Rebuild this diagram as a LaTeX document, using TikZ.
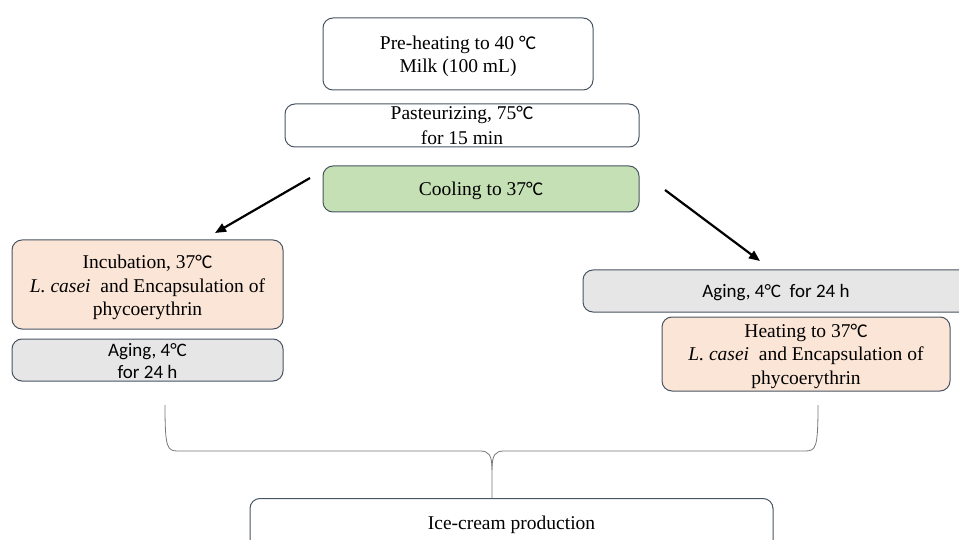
\documentclass[tikz,border=0pt]{standalone}
\usepackage{fontspec}
\setmainfont{Liberation Serif}
\newfontfamily\calfont{Carlito}
\usetikzlibrary{arrows.meta}
\definecolor{edgec}{RGB}{72,84,98}
\definecolor{greenf}{RGB}{197,224,180}
\definecolor{peachf}{RGB}{251,229,214}
\definecolor{grayf}{RGB}{231,230,230}
\definecolor{bracec}{RGB}{120,120,120}
\newcommand{\dC}{{\calfont °C}}
\newcommand{\up}[1]{\rule{0pt}{#1pt}}
\tikzset{
  box/.style={draw=edgec, line width=1pt, rounded corners=10pt, align=center,
    inner sep=0pt, font=\fontsize{19.5}{23.5}\selectfont},
  calbox/.style={box, font=\calfont\fontsize{19}{22.5}\selectfont},
  arr/.style={line width=2.2pt, -{Triangle[length=11pt,width=9pt]}},
  bracel/.style={draw=bracec, line width=0.8pt}
}
\begin{document}
\begin{tikzpicture}[x=1pt,y=-1pt]
\useasboundingbox (0,0) rectangle (959,540);
\clip (0,0) rectangle (959,540);
\node[box, minimum width=270pt, minimum height=72pt] (pre) at (458,54)
  {\up{18.5}Pre-heating to 40 \dC\\Milk (100 mL)};
\node[box, minimum width=354pt, minimum height=43pt] (past) at (462,125.5)
  {\raisebox{2pt}{Pasteurizing, 75\dC}\\for 15 min};
\node[box, fill=greenf, minimum width=316pt, minimum height=46pt] (cool) at (481,189)
  {\up{17.5}Cooling to 37\dC};
\node[box, fill=peachf, minimum width=271pt, minimum height=89pt] (inc) at (147.5,284.5)
  {\up{19.5}Incubation, 37\dC\\\textit{L. casei}\ \ and Encapsulation of\\phycoerythrin};
\node[calbox, fill=grayf, minimum width=271pt, minimum height=42pt] (agel) at (147.5,360)
  {\up{15}Aging, 4°C\\for 24 h};
\node[calbox, fill=grayf, minimum width=386pt, minimum height=42pt] (ager) at (776,291)
  {\up{17}Aging, 4°C\ \ for 24 h};
\node[box, fill=peachf, minimum width=288pt, minimum height=74pt] (heat) at (806,354)
  {\up{18}Heating to 37\dC\\\textit{L. casei}\ \ and Encapsulation of\\phycoerythrin};
\node[box, minimum width=523pt, minimum height=70pt, anchor=north] (ice) at (511.5,498)
  {\raisebox{22pt}{Ice-cream production}};
% arrows
\coordinate (a1s) at (310,178);
\coordinate (a1e) at (215,233);
\coordinate (a2s) at (665,190);
\coordinate (a2e) at (760,261);
\draw[arr] (a1s) -- (a1e);
\draw[arr] (a2s) -- (a2e);
% brace
\coordinate (bl) at (165,405);
\coordinate (br) at (818,405);
\coordinate (bt) at (492,498);
\coordinate (bm) at (492,470);
\draw[bracel] (bl) .. controls (165,448) and (167,451) .. (178,451) -- (480,451)
  .. controls (489,451) and (492,455) .. (bm) -- (bt);
\draw[bracel] (br) .. controls (818,448) and (816,451) .. (805,451) -- (504,451)
  .. controls (495,451) and (492,455) .. (bm);
\end{tikzpicture}
\end{document}
